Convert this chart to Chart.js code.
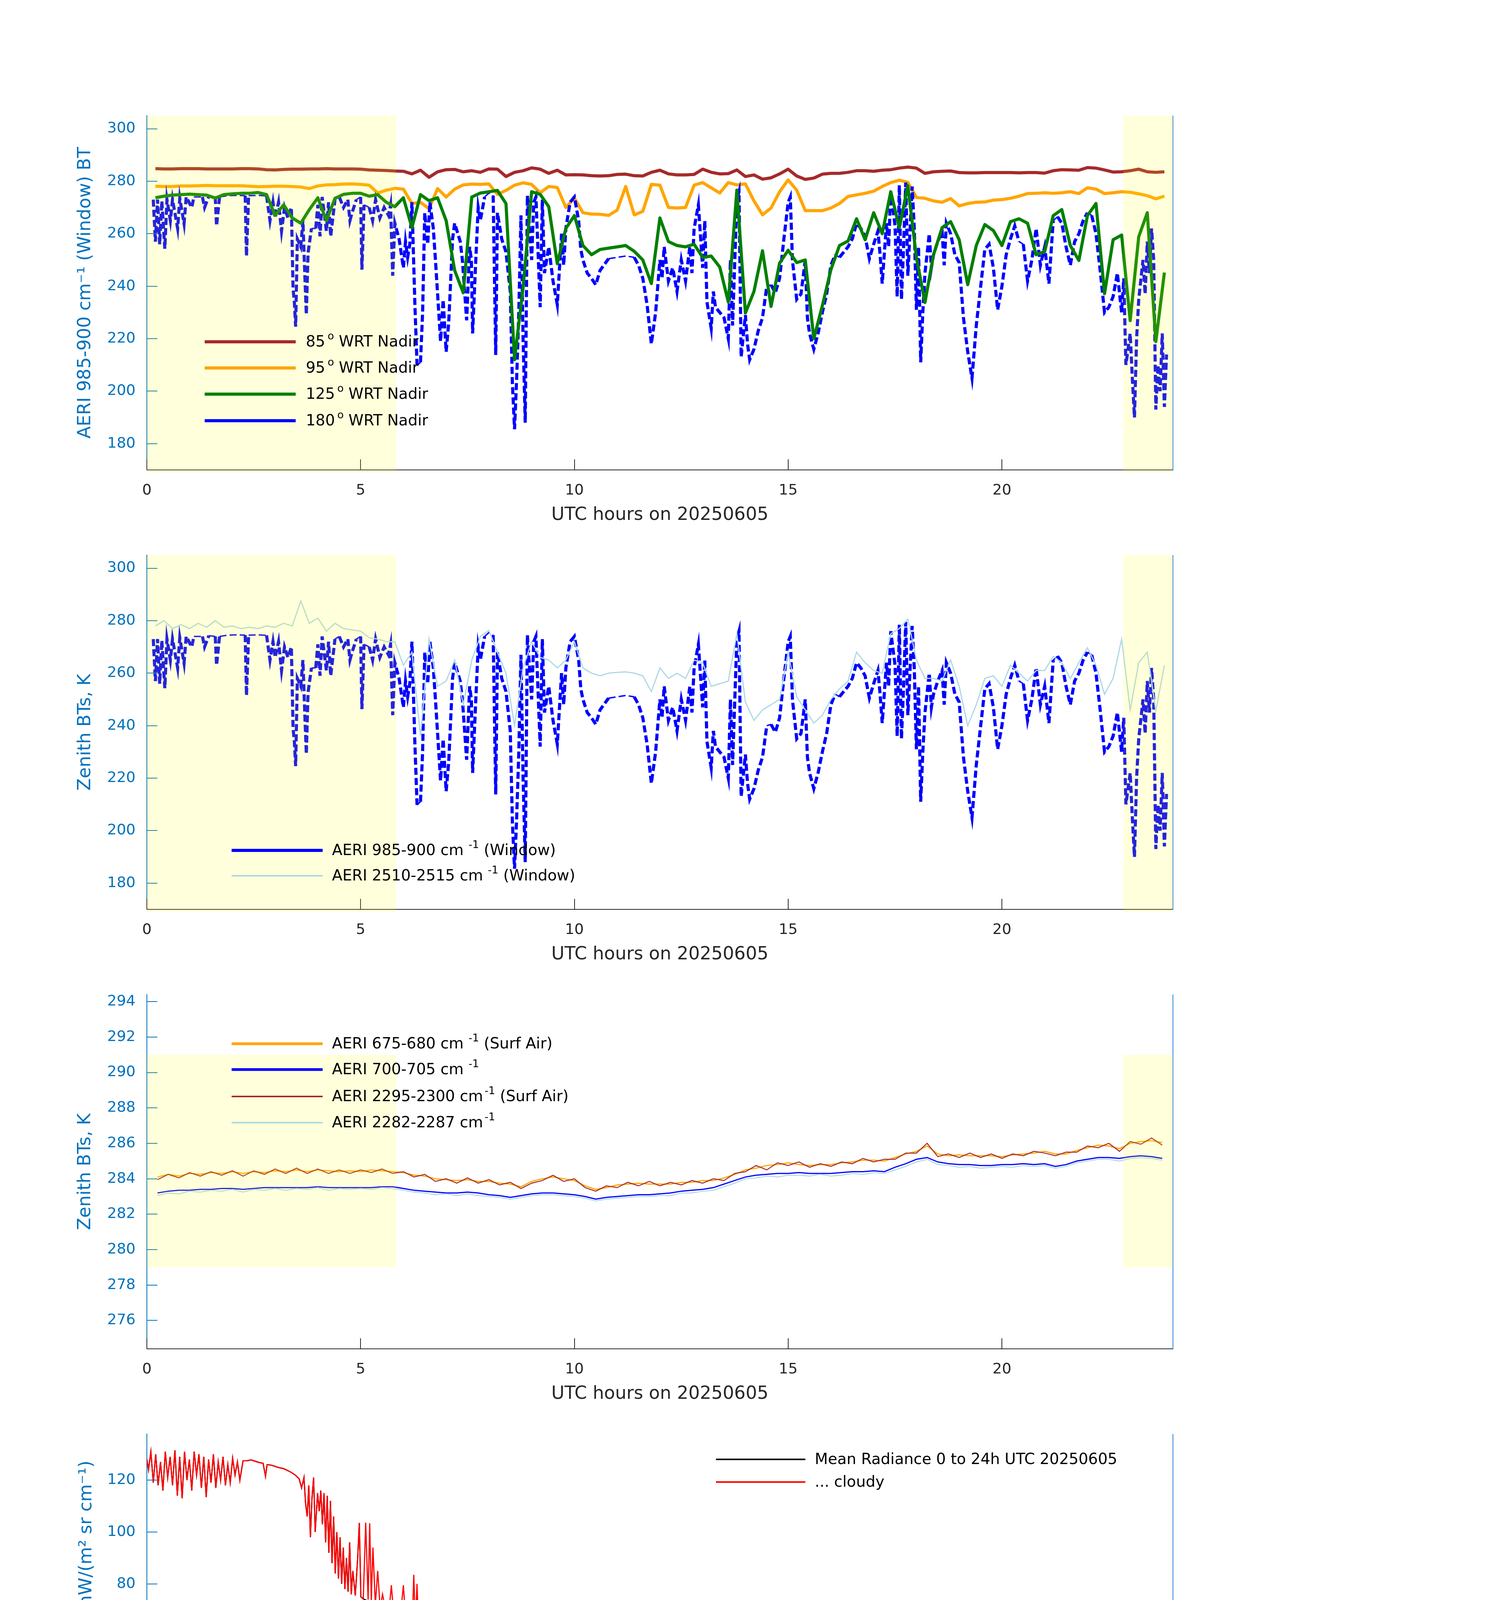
<!DOCTYPE html>
<html>
<head>
<meta charset="utf-8">
<script src="https://cdn.jsdelivr.net/npm/chart.js@4.4.1/dist/chart.umd.min.js"></script>
<style>
  html, body { margin: 0; padding: 0; background: #fff; width: 3825px; height: 6000px; overflow: hidden; }
  body { position: relative; }
  canvas { position: absolute; left: 0; }
</style>
</head>
<body>
<canvas id="p1"></canvas>
<canvas id="p2"></canvas>
<canvas id="p3"></canvas>
<canvas id="p4"></canvas>
<canvas id="p5"></canvas>
<script>
// ---- time grid for the scan-angle window BTs (UTC hours) ----
const hours = [
  0.2,0.4,0.6,0.8,1.0,1.2,1.4,1.6,1.8,2.0,
  2.2,2.4,2.6,2.8,3.0,3.2,3.4,3.6,3.8,4.0,
  4.2,4.4,4.6,4.8,5.0,5.2,5.4,5.6,5.8,6.0,
  6.2,6.4,6.6,6.8,7.0,7.2,7.4,7.6,7.8,8.0,
  8.2,8.4,8.6,8.8,9.0,9.2,9.4,9.6,9.8,10.0,
  10.2,10.4,10.6,10.8,11.0,11.2,11.4,11.6,11.8,12.0,
  12.2,12.4,12.6,12.8,13.0,13.2,13.4,13.6,13.8,14.0,
  14.2,14.4,14.6,14.8,15.0,15.2,15.4,15.6,15.8,16.0,
  16.2,16.4,16.6,16.8,17.0,17.2,17.4,17.6,17.8,18.0,
  18.2,18.4,18.6,18.8,19.0,19.2,19.4,19.6,19.8,20.0,
  20.2,20.4,20.6,20.8,21.0,21.2,21.4,21.6,21.8,22.0,
  22.2,22.4,22.6,22.8,23.0,23.2,23.4,23.6,23.8
];

const bt85 = [
  284.8,284.7,284.7,284.8,284.8,284.8,284.7,284.7,284.7,284.7,
  284.8,284.8,284.7,284.4,284.3,284.5,284.6,284.6,284.7,284.7,
  284.8,284.7,284.7,284.7,284.6,284.3,284.2,284.1,283.9,283.8,
  282.8,284.2,281.5,283.6,284.4,284.5,283.6,284.0,283.4,284.7,
  284.6,281.8,283.4,284.0,285.1,284.6,283.0,284.2,282.4,282.5,
  282.4,282.1,282.0,282.1,282.6,282.7,282.1,282.0,283.4,284.2,
  282.8,282.4,282.4,282.6,284.6,283.4,282.8,282.9,284.3,281.8,
  282.4,280.8,281.3,282.8,284.6,282.0,280.7,281.2,282.7,283.0,
  283.0,283.4,284.0,284.0,283.8,284.2,284.4,285.0,285.4,285.0,
  283.0,283.6,283.8,283.9,283.3,283.2,283.2,283.3,283.3,283.3,
  283.3,283.2,283.3,283.3,283.1,284.0,284.4,284.3,284.2,285.2,
  285.0,284.3,283.5,283.6,284.0,284.6,283.6,283.4,283.6
];

const bt95 = [
  278.1,278.0,278.0,278.2,278.2,278.3,278.4,278.3,278.3,278.3,
  278.3,278.1,277.9,278.0,278.1,278.1,278.0,277.8,277.2,278.2,
  278.6,278.7,278.9,279.0,278.8,278.5,275.5,276.6,277.3,277.0,
  271.5,272.0,269.5,277.2,274.0,277.0,278.6,278.9,278.8,279.0,
  275.0,276.5,278.5,279.4,278.8,275.6,278.0,277.6,270.0,273.6,
  268.0,267.5,267.4,267.0,269.0,278.0,267.2,268.5,278.8,278.5,
  270.0,269.8,270.0,278.5,279.5,277.5,275.5,279.5,278.6,279.0,
  272.5,267.2,269.8,276.0,280.5,276.6,268.8,268.8,268.8,269.8,
  271.5,274.2,274.8,275.4,276.2,278.0,279.5,280.4,279.6,273.8,
  273.5,272.5,272.0,273.4,270.6,271.5,272.0,272.1,272.8,273.0,
  273.5,274.3,275.3,275.4,275.6,275.4,275.6,276.0,275.3,277.5,
  277.0,275.3,275.6,276.0,275.8,275.2,274.5,273.3,274.3
];

const bt125 = [
  273.7,274.3,274.7,274.9,275.1,274.9,274.7,273.6,274.9,275.2,
  275.4,275.4,275.7,274.9,267.0,271.0,266.0,264.0,269.2,273.7,
  265.0,273.5,275.0,275.4,275.4,274.3,274.9,272.0,270.3,273.7,
  262.3,274.9,272.6,273.7,265.0,246.0,237.5,274.0,275.5,276.0,
  276.5,271.5,212.0,239.5,276.0,275.0,270.3,248.6,262.0,266.9,
  255.5,252.0,254.0,254.5,255.0,255.5,253.3,250.0,241.0,266.0,
  257.0,255.5,255.0,256.0,251.0,251.5,247.3,234.0,276.6,229.8,
  238.0,253.5,232.3,248.8,253.7,249.0,250.0,220.0,232.6,246.3,
  255.5,257.2,265.7,257.7,268.0,260.0,276.0,262.3,278.3,250.9,
  233.8,252.0,262.3,264.6,257.7,240.6,255.5,263.5,261.2,255.5,
  264.6,265.7,264.0,252.0,253.2,266.9,269.2,255.5,249.8,266.9,
  271.5,237.2,257.7,259.5,226.9,258.9,268.0,218.9,245.2
];

// zenith 985-900 cm-1 window BT, [UTC hour, K]
const bt180 = [
  [0.15,273],[0.2,257],[0.25,273],[0.3,256],[0.35,272.5],[0.42,254.3],[0.47,273],[0.55,265],[0.6,273],[0.72,262],[0.77,273.5],[0.87,263.8],[0.92,274],
  [1.05,270],[1.1,274],[1.3,274],[1.35,270],[1.45,274.3],[1.6,274],[1.63,263],[1.7,274],[1.9,274.5],
  [2.1,274.6],[2.3,274.5],[2.33,251.5],[2.38,274.5],[2.6,274.6],[2.8,274.4],[2.88,265],[2.95,272],
  [3.0,266],[3.08,272],[3.15,261],[3.22,270],[3.3,266],[3.38,270],[3.42,239],[3.45,234],[3.48,224.6],[3.52,258],[3.6,255],[3.65,265],[3.7,241.8],[3.73,229.2],[3.77,252.6],[3.85,262],[3.95,262],
  [4.0,271],[4.05,259],[4.1,274],[4.2,261],[4.25,272],[4.3,259],[4.4,273],[4.5,274],[4.6,270],[4.7,273],[4.75,265],[4.8,268],[4.9,273],
  [5.0,274],[5.03,246.3],[5.08,271],[5.2,270],[5.28,265],[5.35,273],[5.45,266],[5.55,270],[5.65,267],[5.7,271],[5.75,244],[5.8,264],[5.9,258],[6.0,247],
  [6.05,257],[6.1,251],[6.15,256],[6.2,272],[6.27,232.6],[6.32,209.8],[6.4,211],[6.45,230],[6.5,268],[6.57,256],[6.62,272],[6.7,262],[6.75,250],[6.87,219],[6.93,234.9],
  [7.0,215],[7.06,226],[7.1,240],[7.15,258],[7.2,264],[7.33,257],[7.38,250],[7.48,227],[7.55,255],[7.59,250],[7.62,222],[7.68,245],[7.75,270],[7.8,265],[7.9,274],
  [8.0,275.5],[8.1,274.5],[8.16,213.8],[8.2,268],[8.3,258],[8.4,253],[8.5,238],[8.55,203],[8.6,185.5],[8.65,205],[8.7,230],[8.75,267],[8.8,220],[8.85,188],[8.9,274.5],
  [9.0,250],[9.05,272],[9.1,274],[9.2,232],[9.25,273],[9.3,245],[9.4,255],[9.5,242],[9.6,233],[9.7,260],[9.75,248],[9.8,262],[9.9,272],
  [10.0,274],[10.1,265],[10.15,254],[10.2,250],[10.3,245],[10.4,243],[10.5,240.5],[10.6,246],[10.8,250.5],
  [11.0,251],[11.2,251.5],[11.4,251],[11.5,248],[11.6,243],[11.7,233],[11.8,218],[11.9,230],
  [12.0,250],[12.05,243],[12.1,255],[12.2,242],[12.3,247],[12.4,238],[12.5,250],[12.6,242],[12.7,255],[12.75,245],[12.8,262],[12.9,271],
  [13.0,247],[13.05,265],[13.1,234],[13.2,224],[13.25,238],[13.3,232],[13.4,230],[13.5,228],[13.6,220],[13.65,250],[13.7,225],[13.8,273],[13.85,276],[13.9,213],
  [14.0,229],[14.05,218],[14.1,212],[14.2,216],[14.3,223],[14.4,228],[14.5,240],[14.6,240.5],[14.7,237.5],[14.8,243],[14.9,258],
  [15.0,272],[15.05,274],[15.1,250],[15.2,235],[15.3,237],[15.4,250],[15.45,228],[15.5,222],[15.6,216],[15.7,222],[15.8,230],[15.9,237],
  [16.0,248],[16.1,252],[16.2,251],[16.4,255],[16.5,258],[16.6,264],[16.7,262],[16.8,259],[16.9,250.5],
  [17.0,256],[17.1,261],[17.15,252],[17.2,241],[17.3,264],[17.35,255],[17.4,276],[17.5,263],[17.55,236],[17.6,278.5],[17.65,235],[17.7,255],[17.75,279.5],[17.8,244],[17.9,278],[17.95,262],
  [18.0,231],[18.05,255],[18.1,211],[18.15,230],[18.2,245],[18.3,260],[18.35,247],[18.4,252],[18.5,257],[18.6,261],[18.65,248],[18.7,264],[18.8,260],[18.9,252],
  [19.0,249],[19.1,228],[19.2,215],[19.3,205],[19.4,225],[19.5,239.5],[19.6,254],[19.7,256],[19.8,247],[19.9,231],
  [20.0,240],[20.1,252],[20.2,258],[20.3,263],[20.4,257],[20.5,256],[20.6,242],[20.7,250],[20.8,262],[20.9,248],
  [21.0,255],[21.1,241],[21.2,265],[21.3,266.5],[21.4,264],[21.5,255],[21.6,248],[21.7,257],[21.8,260],[21.9,265],
  [22.0,268],[22.1,267],[22.2,260],[22.3,245.7],[22.4,230],[22.5,232],[22.6,236],[22.7,245],[22.8,230],[22.85,243],[22.9,210],
  [23.0,222],[23.05,205],[23.1,190],[23.15,220],[23.2,235],[23.3,250],[23.35,237],[23.4,257],[23.45,245],[23.5,262],[23.55,250],[23.6,193],[23.65,210],[23.7,200],[23.75,222],[23.8,194],[23.85,214]
];

const bt2510 = [
  278.0,280.0,277.0,278.5,277.0,279.0,277.5,280.0,277.5,278.0,
  277.0,277.5,277.0,278.0,277.5,279.0,278.0,287.5,279.0,281.0,
  276.0,279.0,277.0,276.5,276.0,273.5,273.0,272.0,272.0,263.0,
  268.0,236.0,273.0,255.0,257.0,265.0,248.0,265.0,274.0,276.3,
  268.0,260.0,240.0,262.0,272.0,266.0,265.0,262.0,265.0,272.0,
  262.0,260.0,259.0,260.0,260.3,260.5,260.0,259.0,253.0,262.0,
  258.0,260.0,258.0,265.0,264.0,255.0,256.0,257.0,275.0,249.0,
  242.0,246.0,248.0,250.0,268.0,251.0,246.0,241.0,244.0,250.0,
  254.0,257.0,268.0,264.0,261.0,260.0,275.0,277.0,280.6,265.0,
  258.0,258.0,257.0,265.0,255.0,240.0,248.0,258.0,259.0,255.0,
  263.0,260.0,257.0,261.0,261.0,266.4,264.0,258.0,264.0,269.7,
  263.0,252.0,258.0,273.0,246.0,264.0,268.0,245.7,263.0
];

// ---- surface-air channels (UTC hours) ----
const hours3 = [
  0.25,0.5,0.75,1.0, 1.25,1.5,1.75,2.0, 2.25,2.5,2.75,3.0, 3.25,3.5,3.75,4.0,
  4.25,4.5,4.75,5.0, 5.25,5.5,5.75,6.0, 6.25,6.5,6.75,7.0, 7.25,7.5,7.75,8.0,
  8.25,8.5,8.75,9.0, 9.25,9.5,9.75,10.0, 10.25,10.5,10.75,11.0, 11.25,11.5,11.75,12.0,
  12.25,12.5,12.75,13.0, 13.25,13.5,13.75,14.0, 14.25,14.5,14.75,15.0, 15.25,15.5,15.75,16.0,
  16.25,16.5,16.75,17.0, 17.25,17.5,17.75,18.0, 18.25,18.5,18.75,19.0, 19.25,19.5,19.75,20.0,
  20.25,20.5,20.75,21.0, 21.25,21.5,21.75,22.0, 22.25,22.5,22.75,23.0, 23.25,23.5,23.75
];
const bt675 = [
  284.1,284.25,284.15,284.3, 284.25,284.35,284.3,284.4, 284.3,284.4,284.35,284.45, 284.4,284.5,284.4,284.5,
  284.45,284.4,284.45,284.4, 284.5,284.45,284.4,284.35, 284.2,284.15,284.0,283.95, 283.9,283.95,283.85,283.85,
  283.75,283.7,283.55,283.85, 284.0,284.1,284.0,283.9, 283.6,283.4,283.5,283.65, 283.7,283.75,283.7,283.7,
  283.7,283.8,283.8,283.9, 283.9,284.05,284.25,284.5, 284.6,284.75,284.8,284.9, 284.8,284.75,284.8,284.8,
  284.9,284.95,285.05,285.05, 285.0,285.2,285.4,285.55, 285.85,285.4,285.3,285.35, 285.3,285.3,285.3,285.25,
  285.35,285.4,285.45,285.55, 285.4,285.4,285.6,285.75, 285.9,285.85,285.7,286.0, 286.1,286.15,286.05
];
const bt700 = [
  283.2,283.3,283.35,283.35, 283.4,283.4,283.45,283.45, 283.4,283.45,283.5,283.5, 283.5,283.5,283.5,283.55,
  283.5,283.5,283.5,283.5, 283.5,283.55,283.55,283.45, 283.35,283.3,283.25,283.2, 283.2,283.25,283.2,283.1,
  283.05,282.95,283.05,283.15, 283.2,283.2,283.15,283.1, 283.0,282.85,282.95,283.0, 283.05,283.1,283.1,283.15,
  283.2,283.3,283.35,283.4, 283.5,283.7,283.9,284.1, 284.2,284.25,284.3,284.3, 284.35,284.3,284.3,284.3,
  284.35,284.4,284.4,284.45, 284.4,284.65,284.85,285.1, 285.2,284.95,284.85,284.8, 284.8,284.75,284.75,284.8,
  284.8,284.85,284.8,284.85, 284.7,284.8,285.0,285.1, 285.2,285.2,285.15,285.25, 285.3,285.25,285.15
];
const bt2295 = [
  283.95,284.25,284.05,284.35, 284.15,284.4,284.2,284.45, 284.15,284.45,284.25,284.55, 284.3,284.6,284.3,284.55,
  284.3,284.5,284.3,284.5, 284.35,284.55,284.3,284.4, 284.1,284.25,283.85,284.0, 283.75,284.05,283.75,283.95,
  283.65,283.8,283.45,283.75, 283.9,284.2,283.85,284.0, 283.5,283.3,283.6,283.5, 283.8,283.6,283.85,283.6,
  283.8,283.65,283.9,283.75, 284.0,283.9,284.3,284.4, 284.75,284.5,284.9,284.75, 284.95,284.65,284.85,284.7,
  284.95,284.85,285.15,284.95, 285.1,285.1,285.45,285.45, 286.0,285.25,285.4,285.2, 285.45,285.2,285.4,285.15,
  285.4,285.3,285.55,285.45, 285.3,285.5,285.5,285.85, 285.75,286.0,285.55,286.1, 285.95,286.3,285.9
];
const bt2282 = [
  283.05,283.2,283.15,283.3, 283.25,283.35,283.3,283.4, 283.25,283.4,283.35,283.45, 283.35,283.45,283.4,283.5,
  283.35,283.45,283.4,283.45, 283.4,283.5,283.45,283.35, 283.25,283.2,283.1,283.15, 283.05,283.15,283.05,283.0,
  282.95,282.85,282.95,283.05, 283.1,283.1,283.05,283.0, 282.9,282.75,282.85,282.9, 282.95,283.0,283.0,283.05,
  283.05,283.2,283.2,283.3, 283.35,283.55,283.75,284.0, 284.05,284.15,284.1,284.2, 284.2,284.15,284.25,284.15,
  284.2,284.3,284.25,284.35, 284.3,284.5,284.7,284.95, 285.1,284.8,284.75,284.65, 284.7,284.6,284.65,284.7,
  284.65,284.75,284.7,284.75, 284.6,284.7,284.9,285.0, 285.1,285.1,285.0,285.15, 285.2,285.15,285.05
];

// ---- mean radiance spectra, [wavenumber cm-1, mW/(m2 sr cm-1)] ----
const cloudyLW = [
  [520,128],[522,124],[525,131],[528,119],[531,130],[534,118],[537,127],[540,116],[543,131],[546,121],
  [549,129],[552,118],[555,131.5],[558,114],[561,129],[564,113],[567,131],[570,120],[573,128],[576,116],
  [579,131],[582,122],[585,130],[588,117],[591,129],[594,113.5],[597,128],[600,119],[603,130],[606,117],
  [609,127],[612,120],[615,129],[618,118],[621,126],[624,119],[627,128.5],[630,122],[633,127],[636,120],
  [640,127.5],[645,127.5],[650,127.8],[655,127.3],[660,126.8],[665,126.5],[668,121.5],[670,126],[675,125.8],[680,125.3],
  [685,124.8],[690,124.5],[695,123.8],[700,123],[705,122],[710,120.5],[713,117],[716,121],[718,111],[720,106],
  [722,118],[724,98],[726,113],[728,121],[730,100],[733,115],[735,108],[737,116],[739,103],[741,115],
  [743,96],[745,114],[747,92],[749,112],[751,88],[753,106],[755,84],[757,100],[759,82],[761,98],
  [763,80],[765,94],[767,78],[769,90],[771,77],[773,96],[775,76],[777,85],[780,75.5],[783,90],
  [785,103.5],[787,75],[790,74.5],[793,103.6],[796,74],[798,103.4],[800,73.5],[802,94],[805,72],[808,85],
  [811,70.5],[814,76],[818,69.5],[822,69],[825,79.5],[828,67.8],[832,67],[836,66.5],[840,79.5],[843,65.5],
  [847,65],[851,64.5],[853,83.5],[855,63],[857,80],[859,62],[863,61.5],[867,61],[870,71],[873,60.5],
  [877,72.5],[880,59.5],[884,58.5],[887,72.5],[890,58],[895,57],[898,67.5],[902,56],[906,55],[910,61.5],
  [914,53.8],[918,53],[922,52],[925,61],[928,51],[933,50.5],[938,50],[943,49.5],[948,58.5],[952,48.5],
  [957,47.5],[963,49],[967,46],[972,45.5],[975,50],[978,44.5],[983,43.5],[988,42.5],[993,42],[998,41.5],
  [1003,41.5],[1008,42],[1010,53.5],[1012,42],[1015,47.5],[1018,42],[1022,42],[1025,47],[1028,42],[1033,41.5],
  [1038,41],[1040,44],[1043,41],[1047,40.5],[1050,38],[1053,41],[1056,37],[1060,39],[1063,35],[1065,53.5],
  [1067,34],[1070,36],[1073,33.5],[1076,36],[1080,46],[1083,33],[1087,32.5],[1090,44.5],[1093,31.5],[1097,31.5],
  [1100,43],[1103,31],[1107,31],[1110,45],[1113,30.5],[1117,30],[1121,31],[1125,46],[1128,30],[1131,51.5],
  [1134,29.5],[1138,29.5],[1142,29],[1145,44.5],[1148,28.5],[1152,28.5],[1155,42],[1158,28],[1162,28],[1166,27.5],
  [1170,50],[1173,27.5],[1177,27],[1180,48.5],[1183,26.5],[1187,26.5],[1190,45],[1193,26],[1197,25.5],[1200,44],
  [1203,25.5],[1207,25],[1210,45.5],[1213,24.5],[1217,24],[1220,45.5],[1223,24],[1227,26],[1230,23],[1233,32],
  [1237,41.5],[1240,24],[1243,30],[1246,23],[1249,33],[1252,27],[1255,40.5],[1258,26],[1261,34],[1264,28],
  [1267,40],[1270,29],[1273,36],[1276,27],[1279,33],[1282,28],[1285,37.5],[1288,27],[1291,34],[1294,29],
  [1297,33],[1300,36],[1303,28],[1306,33],[1310,35.5],[1313,30],[1316,34],[1320,35.5],[1323,30],[1326,32],
  [1328,24.5],[1331,30],[1335,32],[1340,33],[1345,30],[1350,30.5],[1355,31],[1360,30],[1365,29.5],[1370,29],
  [1375,28.5],[1380,28.5],[1385,28],[1390,27.5],[1395,27],[1400,26.7],[1410,26],[1420,26.5],[1422,25.5],[1430,24.8],
  [1440,24.5],[1443,25.5],[1450,23.5],[1460,23],[1470,22.3],[1480,21.7],[1490,21.2],[1500,20.7],[1510,20],[1520,19.3],
  [1530,18.8],[1540,18],[1541,27.4],[1543,17.5],[1545,16.8],[1550,17.4],[1560,17],[1565,18],[1570,16.4],[1577,15.8],
  [1578,24],[1580,15.3],[1590,15.4],[1600,15.2],[1610,14.7],[1620,14.2],[1630,13.8],[1640,13.4],[1650,13],[1655,18.8],
  [1657,12.5],[1660,13],[1670,12.5],[1680,12],[1690,11.6],[1697,11],[1698,16.5],[1700,11.3],[1710,11],[1718,10.5],
  [1720,15.8],[1722,10.4],[1730,10.2],[1740,9.8],[1750,9.4],[1760,9],[1770,8.5],[1780,8.1],[1790,7.8],[1800,7.4]
];
// the 0-24 h mean sits on the cloudy curve except for a thin dark edge below it (790-1225 cm-1)
const meanLW = [
  [520,128],[522,124],[525,131],[528,119],[531,130],[534,118],[537,127],[540,116],[543,131],[546,121],
  [549,129],[552,118],[555,131.5],[558,114],[561,129],[564,113],[567,131],[570,120],[573,128],[576,116],
  [579,131],[582,122],[585,130],[588,117],[591,129],[594,113.5],[597,128],[600,119],[603,130],[606,117],
  [609,127],[612,120],[615,129],[618,118],[621,126],[624,119],[627,128.5],[630,122],[633,127],[636,120],
  [640,127.5],[645,127.5],[650,127.8],[655,127.3],[660,126.8],[665,126.5],[668,121.5],[670,126],[675,125.8],[680,125.3],
  [685,124.8],[690,124.5],[695,123.8],[700,123],[705,122],[710,120.5],[713,117],[716,121],[718,111],[720,106],
  [722,118],[724,98],[726,113],[728,121],[730,100],[733,115],[735,108],[737,116],[739,103],[741,115],
  [743,96],[745,114],[747,92],[749,112],[751,88],[753,106],[755,84],[757,100],[759,82],[761,98],
  [763,80],[765,94],[767,78],[769,90],[771,77],[773,96],[775,76],[777,85],[780,75.5],[783,90],
  [785,103.5],[787,75],[790,74.2],[800,72.9],[810,70.2],[820,68.7],[840,65.3],[860,61.3],[880,58.9],[900,55.4],
  [920,51.7],[940,49.2],[960,46.4],[980,43.7],[1000,40.9],[1020,41.1],[1040,40.2],[1050,37.6],[1056,36.6],[1067,33.6],
  [1080,32.4],[1100,30.5],[1130,29.2],[1160,27.6],[1200,25.1],[1223,23.8],
  [1227,26],[1230,23],[1233,32],[1237,41.5],[1240,24],[1243,30],[1246,23],[1249,33],[1252,27],[1255,40.5],
  [1258,26],[1261,34],[1264,28],[1267,40],[1270,29],[1273,36],[1276,27],[1279,33],[1282,28],[1285,37.5],
  [1288,27],[1291,34],[1294,29],[1297,33],[1300,36],[1303,28],[1306,33],[1310,35.5],[1313,30],[1316,34],
  [1320,35.5],[1323,30],[1326,32],[1328,24.5],[1331,30],[1335,32],[1340,33],[1345,30],
  [1350,30.3],[1400,26.5],[1450,23.3],[1500,20.5],[1550,17.2],[1600,15],[1650,12.9],[1700,11.1],[1750,9.3],[1800,7.3]
];
const cloudySW = [
  [1800,8.0],[1804.6,7.6],[1809,7.3],[1812,7.55],[1815.6,7.25],[1818,6.8],[1821,7.3],[1823,6.9],[1825,7.1],[1827.5,7.15],
  [1832,7.0],[1837,6.75],[1841,6.6],[1846,6.75],[1849,6.45],[1850.5,6.35],[1853,5.8],[1855,5.5],[1858,6.35],[1860.6,5.7],
  [1862,6.1],[1866,6.2],[1870,6.15],[1873.5,5.6],[1876,4.6],[1879,5.7],[1882,4.6],[1884.5,5.8],[1887,5.3],[1890,5.7],
  [1893.7,5.3],[1897,4.0],[1900,4.5],[1903,5.4],[1906.5,4.9],[1910,5.3],[1913,4.5],[1916.6,5.2],[1920,5.0],[1924,4.5],
  [1926.7,3.3],[1929.5,4.8],[1932.6,3.2],[1936,4.7],[1939.6,4.75],[1942,3.9],[1945,4.6],[1948.8,2.7],[1952.4,4.55],[1956,2.7],
  [1959.8,4.4],[1963.5,3.0],[1966,4.35],[1970,2.2],[1972.6,3.2],[1975,2.2],[1979,2.6],[1982,1.95],[1985.5,2.5],[1989,4.0],
  [1993,3.9],[1995.6,2.3],[1999,3.85],[2002,1.85],[2005.7,2.0],[2009,3.5],[2012.6,1.9],[2016.7,3.65],[2020,2.0],[2024,3.2],
  [2027.7,1.55],[2031.4,2.4],[2035,1.55],[2038.8,3.35],[2042.4,1.7],[2046,2.8],[2050,1.45],[2053.4,2.0],[2057,1.4],[2060.8,2.95],
  [2064.5,1.6],[2068,2.3],[2071.8,1.35],[2075.5,2.25],[2079,1.3],[2082.8,2.76],[2086.5,1.2],[2090,2.0],[2094,1.1],[2097.5,1.8],
  [2101,1.1],[2105,1.8],[2108.5,1.05],[2112,2.3],[2116,1.05],[2119.6,1.5],[2123,1.0],[2127,1.6],[2130.6,0.95],[2134,1.9],
  [2138,0.95],[2141.6,1.8],[2145,0.9],[2149,1.5],[2152.6,0.9],[2156,1.2],[2160,0.88],[2163.6,1.1],[2167,0.92],[2171,1.2],
  [2174.6,0.9],[2178,1.3],[2182,1.1],[2185.7,1.45],[2189,1.2],[2193,1.5],[2196.7,1.25],[2200,1.5],[2204,1.3],[2207.7,1.45],
  [2213,1.3],[2218,1.15],[2222,1.05],[2227,1.35],[2231.6,1.5],[2236,1.42],[2240.8,1.5],[2245,1.45],[2250,1.5],[2255,1.45],
  [2259,1.48],[2268,1.43],[2277,1.39],[2286.7,1.35],[2295,1.31],[2305,1.27],[2314,1.22],[2323,1.18],[2332,1.13],[2341.8,1.08],
  [2350,1.05],[2360,1.02],[2370,0.98],[2378.5,0.95],[2384,0.92],[2386,0.85],[2387.7,0.75],[2390,0.62],[2392,0.55],[2396,0.5],
  [2401.5,0.45],[2410,0.42],[2424.4,0.38],[2440,0.35],[2452,0.32],[2465,0.3],[2479.5,0.28],[2495,0.26],[2507,0.24],[2525,0.23],
  [2544,0.22],[2565,0.21],[2589.7,0.2],[2610,0.19],[2635.6,0.18],[2660,0.17],[2681.5,0.16],[2705,0.15],[2727,0.14],[2750,0.13],
  [2773,0.12],[2796,0.11],[2819,0.1],[2842,0.09],[2865,0.08],[2888,0.075],[2911,0.07],[2925,0.04],[2935,0.08],[2945,0.05],
  [2957,0.06],[2965,0.03],[2975,0.07],[2985,0.04],[2995,0.07],[3003,0.05],[3012,0.07],[3020,0.06]
];
const meanSW = [
  [1800,8.0],[1804.6,7.6],[1809,7.3],[1812,7.55],[1815.6,7.25],[1818,6.8],[1821,7.3],[1823,6.9],[1825,7.1],[1827.5,7.15],
  [1832,7.0],[1837,6.75],[1841,6.6],[1846,6.75],[1849,6.45],[1850.5,6.35],[1853,5.8],[1855,5.5],[1858,6.35],[1860.6,5.7],
  [1862,6.1],[1866,6.2],[1870,6.15],[1873.5,5.6],[1876,4.6],[1879,5.7],[1882,4.6],[1884.5,5.8],[1887,5.3],[1890,5.7],
  [1893.7,5.3],[1897,4.0],[1900,4.5],[1903,5.4],[1906.5,4.9],[1910,5.3],[1913,4.5],[1916.6,5.2],[1920,5.0],[1924,4.5],
  [1926.7,3.3],[1929.5,4.8],[1932.6,3.2],[1936,4.7],[1939.6,4.75],[1942,3.9],[1945,4.6],[1948.8,2.7],[1952.4,4.55],[1956,2.7],
  [1959.8,4.4],[1963.5,3.0],[1966,4.35],[1970,2.2],[1972.6,3.2],[1975,2.2],[1979,2.6],[1982,1.95],[1985.5,2.5],[1989,4.0],
  [1993,3.9],[1995.6,2.3],[1999,3.85],[2002,1.85],[2005.7,2.0],[2009,3.5],[2012.6,1.9],[2016.7,3.65],[2020,2.0],[2024,3.2],
  [2027.7,1.55],[2031.4,2.4],[2035,1.55],[2038.8,3.35],[2042.4,1.7],[2046,2.8],[2050,1.45],[2053.4,2.0],[2057,1.4],[2060.8,2.95],
  [2064.5,1.6],[2068,2.3],[2071.8,1.35],[2075.5,2.25],[2079,1.3],[2082.8,2.76],[2086.5,1.2],[2090,2.0],[2094,1.1],[2097.5,1.8],
  [2101,1.1],[2105,1.8],[2108.5,1.05],[2112,2.3],[2116,1.05],[2119.6,1.5],[2123,1.0],[2127,1.6],[2130.6,0.95],[2134,1.9],
  [2138,0.95],[2141.6,1.8],[2145,0.9],[2149,1.5],[2152.6,0.9],[2156,1.2],[2160,0.88],[2163.6,1.1],[2167,0.92],[2171,1.2],
  [2174.6,0.9],[2178,1.3],[2182,1.1],[2185.7,1.45],[2189,1.2],[2193,1.5],[2196.7,1.25],[2200,1.5],[2204,1.3],[2207.7,1.45],
  [2213,1.3],[2218,1.15],[2222,1.05],[2227,1.35],[2231.6,1.5],[2236,1.42],[2240.8,1.5],[2245,1.45],[2250,1.5],[2255,1.45],
  [2259,1.48],[2268,1.42],[2286.7,1.34],[2305,1.26],[2323,1.17],[2341.8,1.07],[2360,1.01],[2378.5,0.94],[2384,0.91],[2387.7,0.74],
  [2392,0.54],[2401.5,0.44],[2424.4,0.37],[2452,0.31],[2507,0.24],[2589.7,0.2],[2681.5,0.16],[2773,0.12],[2865,0.08],[2957,0.06],
  [3020,0.06]
];

// ---- axis ticks ----
const hourTicks = [0, 5, 10, 15, 20];
const btTicks = [180, 200, 220, 240, 260, 280, 300];
const surfTicks = [276, 278, 280, 282, 284, 286, 288, 290, 292, 294];
const lwTicks = [600, 800, 1000, 1200, 1400, 1600, 1800];
const lwRadTicks = [20, 40, 60, 80, 100, 120];
const swTicks = [1800, 2000, 2200, 2400, 2600, 2800, 3000];
const swRadTicks = [0, 1, 2, 3, 4, 5, 6, 7, 8];
const sunlit = [[0, 5.83], [22.84, 24]];

// ---- layout ----
const FONT = '"DejaVu Sans", sans-serif';
const PAD_TOP = 60, PLOT_H = 907, X_AXIS_H = 144, Y_AXIS_W = 376;
const CANVAS_W = 3100, CANVAS_H = PAD_TOP + PLOT_H + X_AXIS_H;
const AXIS_BLUE = '#0072BD';
const INK = '#262626';

function onGrid(xs, ys) {
  return xs.map((x, i) => ({ x: x, y: ys[i] }));
}
function asPoints(pairs) {
  return pairs.map(p => ({ x: p[0], y: p[1] }));
}

// thick where the trace runs steeply (dense vertical scatter), thin along gentle stretches
function steepWidth(thick, thin) {
  return ctx => Math.abs(ctx.p1.y - ctx.p0.y) > Math.abs(ctx.p1.x - ctx.p0.x) ? thick : thin;
}

function drawParts(ctx, parts, x, y) {
  ctx.textAlign = 'left';
  ctx.textBaseline = 'middle';
  ctx.fillStyle = '#000';
  parts.forEach(p => {
    if (typeof p === 'string') {
      ctx.font = '39px ' + FONT;
      ctx.fillText(p, x, y);
      x += ctx.measureText(p).width;
    } else {
      ctx.font = '27px ' + FONT;
      x += p.gap || 0;
      ctx.fillText(p.sup, x, y - 15);
      x += ctx.measureText(p.sup).width;
    }
  });
}

const decor = {
  id: 'decor',
  afterDraw(chart, args, opts) {
    const { ctx, chartArea: a, scales: { x, y } } = chart;
    ctx.save();
    // inward tick marks
    ctx.lineWidth = 2;
    ctx.strokeStyle = AXIS_BLUE;
    y.ticks.forEach(t => {
      const py = Math.round(y.getPixelForValue(t.value));
      ctx.beginPath(); ctx.moveTo(a.left, py); ctx.lineTo(a.left + 27, py); ctx.stroke();
    });
    ctx.strokeStyle = INK;
    x.ticks.forEach(t => {
      const px = Math.round(x.getPixelForValue(t.value));
      ctx.beginPath(); ctx.moveTo(px, a.bottom); ctx.lineTo(px, a.bottom - 27); ctx.stroke();
    });
    // right-hand axis line
    ctx.strokeStyle = '#2a86d4';
    ctx.beginPath(); ctx.moveTo(a.right, a.top); ctx.lineTo(a.right, a.bottom); ctx.stroke();
    // sunlit shading
    if (opts.shade) {
      ctx.fillStyle = 'rgba(255,255,0,0.14)';
      opts.shade.forEach(s => {
        const x0 = x.getPixelForValue(s[0]), x1 = x.getPixelForValue(s[1]);
        const y0 = opts.shadeY ? y.getPixelForValue(opts.shadeY[1]) : a.top;
        const y1 = opts.shadeY ? y.getPixelForValue(opts.shadeY[0]) : a.bottom + 6;
        ctx.fillRect(x0, y0, x1 - x0, y1 - y0);
      });
    }
    // legend
    if (opts.legend) {
      const L = opts.legend;
      L.rows.forEach(r => {
        const ry = a.top + r.y;
        ctx.strokeStyle = r.color;
        ctx.lineWidth = r.width;
        ctx.lineCap = 'butt';
        ctx.beginPath(); ctx.moveTo(L.x0, ry); ctx.lineTo(L.x1, ry); ctx.stroke();
        drawParts(ctx, r.parts, L.tx, ry + 2);
      });
    }
    ctx.restore();
  }
};

function makeChart(id, top, datasets, c) {
  const el = document.getElementById(id);
  el.width = CANVAS_W; el.height = CANVAS_H;
  el.style.width = CANVAS_W + 'px'; el.style.height = CANVAS_H + 'px';
  el.style.top = (top - PAD_TOP) + 'px';
  return new Chart(el.getContext('2d'), {
    type: 'line',
    data: { datasets: datasets },
    options: {
      responsive: false,
      devicePixelRatio: 1,
      animation: false,
      events: [],
      layout: { padding: { top: PAD_TOP, right: CANVAS_W - 3003, bottom: 0, left: 0 } },
      elements: { point: { radius: 0 }, line: { tension: 0, fill: false } },
      plugins: {
        legend: { display: false },
        tooltip: { enabled: false },
        decor: { shade: c.shade, shadeY: c.shadeY, legend: c.legend }
      },
      scales: {
        x: {
          type: 'linear', min: c.xMin, max: c.xMax,
          afterBuildTicks: s => { s.ticks = c.xTicks.map(v => ({ value: v })); },
          afterFit: s => { s.height = X_AXIS_H; s.paddingLeft = 0; s.paddingRight = 0; },
          grid: { display: true, drawOnChartArea: false, drawTicks: false },
          border: { display: true, color: INK, width: 2 },
          ticks: { color: INK, font: { family: FONT, size: 38 }, padding: 30, autoSkip: false, maxRotation: 0, callback: v => String(v) },
          title: { display: true, text: c.xTitle, color: INK, font: { family: FONT, size: 46 }, padding: { top: 0, bottom: 0 } }
        },
        y: {
          type: 'linear', min: c.yMin, max: c.yMax,
          afterBuildTicks: s => { s.ticks = c.yTicks.map(v => ({ value: v })); },
          afterFit: s => { s.width = Y_AXIS_W; s.paddingTop = 0; s.paddingBottom = 0; },
          grid: { display: true, drawOnChartArea: false, drawTicks: false },
          border: { display: true, color: AXIS_BLUE, width: 2 },
          ticks: { color: AXIS_BLUE, font: { family: FONT, size: 38 }, padding: 29, callback: v => String(v) },
          title: { display: true, text: c.yTitle, color: AXIS_BLUE, font: { family: FONT, size: 46 }, padding: { top: c.yTitlePad, bottom: 0 } }
        }
      }
    },
    plugins: [decor]
  });
}

const blueWindow = () => ({
  data: asPoints(bt180), borderColor: '#0000FF', borderWidth: 8,
  borderDash: [18, 8], borderCapStyle: 'butt', borderJoinStyle: 'miter',
  segment: { borderWidth: steepWidth(8, 3.5) }
});

// panel 1: window BT at four scan angles
makeChart('p1', 296, [
  { data: onGrid(hours, bt85), borderColor: '#A52A2A', borderWidth: 8, borderJoinStyle: 'round', order: 4 },
  { data: onGrid(hours, bt95), borderColor: '#FFA500', borderWidth: 8, borderJoinStyle: 'round', order: 3 },
  Object.assign(blueWindow(), { order: 2 }),
  { data: onGrid(hours, bt125), borderColor: '#008000', borderWidth: 8, borderJoinStyle: 'round', order: 1 }
], {
  xMin: 0, xMax: 24, xTicks: hourTicks, yMin: 170, yMax: 305, yTicks: btTicks,
  xTitle: 'UTC hours on 20250605', yTitle: 'AERI 985-900 cm\u207B\u00B9 (Window) BT', yTitlePad: 191,
  shade: sunlit,
  legend: { x0: 524, x1: 757, tx: 783, rows: [
    { y: 579, color: '#A52A2A', width: 8, parts: ['85', { sup: 'o', gap: 6 }, ' WRT Nadir'] },
    { y: 646, color: '#FFA500', width: 8, parts: ['95', { sup: 'o', gap: 6 }, ' WRT Nadir'] },
    { y: 713, color: '#008000', width: 8, parts: ['125', { sup: 'o', gap: 6 }, ' WRT Nadir'] },
    { y: 781, color: '#0000FF', width: 8, parts: ['180', { sup: 'o', gap: 6 }, ' WRT Nadir'] }
  ] }
});

// panel 2: zenith window BTs
makeChart('p2', 1421, [
  Object.assign(blueWindow(), { order: 2 }),
  { data: onGrid(hours, bt2510), borderColor: '#ADD8E6', borderWidth: 3, order: 1 }
], {
  xMin: 0, xMax: 24, xTicks: hourTicks, yMin: 170, yMax: 305, yTicks: btTicks,
  xTitle: 'UTC hours on 20250605', yTitle: 'Zenith BTs, K', yTitlePad: 191,
  shade: sunlit,
  legend: { x0: 593, x1: 826, tx: 850, rows: [
    { y: 756, color: '#0000FF', width: 8, parts: ['AERI 985-900 cm ', { sup: '-1' }, ' (Window)'] },
    { y: 821, color: '#ADD8E6', width: 4, parts: ['AERI 2510-2515 cm ', { sup: '-1' }, ' (Window)'] }
  ] }
});

// panel 3: surface-air channels
makeChart('p3', 2546, [
  { data: onGrid(hours3, bt675), borderColor: '#FFA500', borderWidth: 3, order: 4 },
  { data: onGrid(hours3, bt700), borderColor: '#0000FF', borderWidth: 3, order: 3 },
  { data: onGrid(hours3, bt2295), borderColor: '#A52A2A', borderWidth: 2.5, order: 2 },
  { data: onGrid(hours3, bt2282), borderColor: '#ADD8E6', borderWidth: 2.5, order: 1 }
], {
  xMin: 0, xMax: 24, xTicks: hourTicks, yMin: 274.4, yMax: 294.4, yTicks: surfTicks,
  xTitle: 'UTC hours on 20250605', yTitle: 'Zenith BTs, K', yTitlePad: 191,
  shade: sunlit, shadeY: [279, 291],
  legend: { x0: 593, x1: 826, tx: 850, rows: [
    { y: 126, color: '#FFA500', width: 7, parts: ['AERI 675-680 cm ', { sup: '-1' }, ' (Surf Air)'] },
    { y: 192, color: '#0000FF', width: 7, parts: ['AERI 700-705 cm ', { sup: '-1' }] },
    { y: 261, color: '#A52A2A', width: 4, parts: ['AERI 2295-2300 cm', { sup: '-1', gap: 4 }, ' (Surf Air)'] },
    { y: 328, color: '#ADD8E6', width: 4, parts: ['AERI 2282-2287 cm', { sup: '-1', gap: 4 }] }
  ] }
});

// panel 4: longwave mean radiance
makeChart('p4', 3671, [
  { data: asPoints(meanLW), borderColor: '#000000', borderWidth: 3, order: 2 },
  { data: asPoints(cloudyLW), borderColor: '#FF0000', borderWidth: 3, order: 1 }
], {
  xMin: 520, xMax: 1800, xTicks: lwTicks, yMin: 1.2, yMax: 137.8, yTicks: lwRadTicks,
  xTitle: 'Wavenumber, cm\u207B\u00B9', yTitle: 'Mean Radiance, mW/(m\u00B2 sr cm\u207B\u00B9)', yTitlePad: 194,
  legend: { x0: 1833, x1: 2062, tx: 2086, rows: [
    { y: 65, color: '#000000', width: 4, parts: ['Mean Radiance 0 to 24h UTC 20250605'] },
    { y: 123, color: '#FF0000', width: 4, parts: ['... cloudy'] }
  ] }
});

// panel 5: shortwave mean radiance
makeChart('p5', 4796, [
  { data: asPoints(meanSW), borderColor: '#000000', borderWidth: 3, order: 2 },
  { data: asPoints(cloudySW), borderColor: '#FF0000', borderWidth: 3, order: 1 }
], {
  xMin: 1800, xMax: 3020, xTicks: swTicks, yMin: -0.37, yMax: 8.45, yTicks: swRadTicks,
  xTitle: 'Wavenumber, cm\u207B\u00B9', yTitle: 'Mean Radiance, mW/(m\u00B2 sr cm\u207B\u00B9)', yTitlePad: 242,
  legend: { x0: 1833, x1: 2062, tx: 2086, rows: [
    { y: 65, color: '#000000', width: 4, parts: ['Mean Radiance 0 to 24h UTC 20250605'] },
    { y: 123, color: '#FF0000', width: 4, parts: ['... cloudy'] }
  ] }
});
</script>
</body>
</html>
